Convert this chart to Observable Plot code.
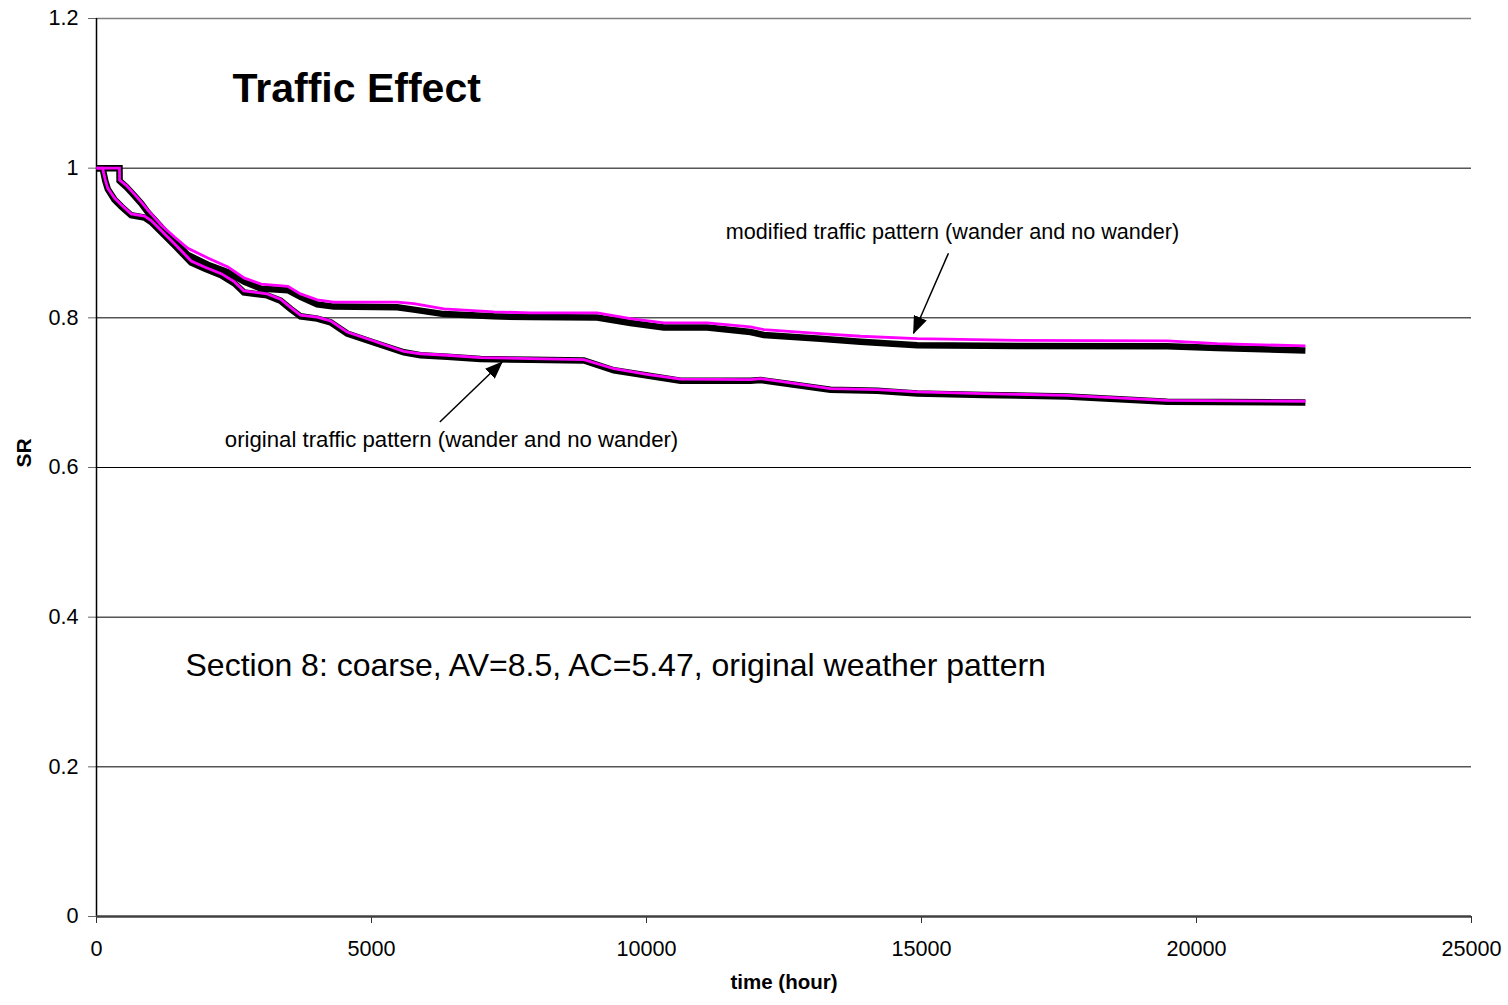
<!DOCTYPE html>
<html>
<head>
<meta charset="utf-8">
<script src="https://cdn.jsdelivr.net/npm/d3@7"></script>
<script src="https://cdn.jsdelivr.net/npm/@observablehq/plot@0.6"></script>
<style>
  body { margin: 0; background: #fff; }
  svg { display: block; }
</style>
</head>
<body>
<div id="chart"></div>
<script>
// ---- Data ----
const modifiedTime = [0, 418, 420, 540, 655, 812, 933, 1176, 1418, 1661, 2024, 2388, 2690, 2994, 3478, 3709, 4012, 4315, 5467, 5770, 6315, 7224, 7891, 9103, 9709, 10315, 11103, 11891, 12133, 13164, 13891, 14921, 16739, 19467, 20376, 21980];
const modifiedMagenta = [1, 1, 0.984, 0.977, 0.968, 0.955, 0.944, 0.924, 0.908, 0.893, 0.880, 0.868, 0.853, 0.845, 0.842, 0.832, 0.824, 0.821, 0.821, 0.819, 0.812, 0.808, 0.8066, 0.8066, 0.799, 0.7932, 0.7932, 0.7878, 0.7843, 0.779, 0.7754, 0.7723, 0.770, 0.7691, 0.7656, 0.7624];
const modifiedBlack = [1, 1, 0.983, 0.975, 0.966, 0.953, 0.941, 0.921, 0.902, 0.884, 0.871, 0.861, 0.848, 0.839, 0.837, 0.828, 0.818, 0.815, 0.814, 0.811, 0.805, 0.802, 0.801, 0.8005, 0.793, 0.787, 0.787, 0.781, 0.777, 0.772, 0.768, 0.7634, 0.7622, 0.762, 0.7598, 0.7563];

const originalTime = [0, 110, 160, 206, 327, 449, 630, 873, 994, 1418, 1721, 1964, 2267, 2509, 2680, 3103, 3345, 3527, 3709, 4012, 4255, 4558, 5042, 5588, 5891, 6376, 6982, 7891, 8861, 9406, 10012, 10618, 11891, 12073, 12497, 13345, 14194, 14921, 16133, 17648, 19467, 21980];
const originalMagenta = [1, 1, 0.984, 0.973, 0.960, 0.951, 0.939, 0.936, 0.930, 0.899, 0.876, 0.868, 0.859, 0.848, 0.836, 0.832, 0.825, 0.814, 0.8035, 0.801, 0.796, 0.781, 0.769, 0.7553, 0.752, 0.750, 0.7468, 0.7455, 0.7442, 0.732, 0.7246, 0.718, 0.7174, 0.7188, 0.7143, 0.7054, 0.704, 0.701, 0.6987, 0.6965, 0.6898, 0.6885];
const originalBlack = [1, 1, 0.983, 0.972, 0.958, 0.949, 0.937, 0.934, 0.928, 0.897, 0.874, 0.866, 0.857, 0.846, 0.834, 0.830, 0.823, 0.812, 0.802, 0.799, 0.794, 0.779, 0.767, 0.754, 0.750, 0.748, 0.745, 0.744, 0.743, 0.730, 0.723, 0.716, 0.716, 0.717, 0.7125, 0.704, 0.7025, 0.699, 0.697, 0.695, 0.688, 0.687];

const yTicks = [0, 0.2, 0.4, 0.6, 0.8, 1, 1.2];
const xTicks = [0, 5000, 10000, 15000, 20000, 25000];
const gridValues = [0.2, 0.4, 0.6, 0.8, 1];
const titleText = ["Traffic Effect"];
const modifiedLabel = ["modified traffic pattern (wander and no wander)"];
const originalLabel = ["original traffic pattern (wander and no wander)"];
const sectionLabel = ["Section 8: coarse, AV=8.5, AC=5.47, original weather pattern"];
const xLabel = ["time (hour)"];
const yLabel = ["SR"];

// ---- Build tables ----
function series(times, values) {
  return times.map((t, i) => ({ t, sr: values[i] }));
}
const modBlk = series(modifiedTime, modifiedBlack);
const modMag = series(modifiedTime, modifiedMagenta);
const origBlk = series(originalTime, originalBlack);
const origMag = series(originalTime, originalMagenta);

const FONT = "'Liberation Sans', Arial, Helvetica, sans-serif";
const lineBlack = { x: "t", y: "sr", stroke: "#000", strokeWidth: 6.5, strokeLinecap: "butt", strokeLinejoin: "miter", strokeMiterlimit: 4 };
const lineMag = { x: "t", y: "sr", stroke: "#ff00ff", strokeWidth: 2.8, strokeLinecap: "butt", strokeLinejoin: "miter", strokeMiterlimit: 4 };

const svg = Plot.plot({
  width: 1508,
  height: 1005,
  marginLeft: 96,
  marginRight: 37,
  marginTop: 18,
  marginBottom: 89,
  style: { fontFamily: FONT, background: "#fff", color: "#000", overflow: "visible" },
  x: { domain: [0, 25000] },
  y: { domain: [0, 1.2] },
  marks: [
    Plot.ruleY(gridValues, { stroke: "#000", strokeWidth: 1 }),
    Plot.ruleY([1.2], { stroke: "#808080", strokeWidth: 1.5 }),
    Plot.axisY({ ticks: yTicks, tickFormat: d => String(d), tickSize: 8, tickPadding: 10, fontSize: 21.6, label: null, stroke: "#666" }),
    Plot.axisX({ ticks: xTicks, tickFormat: d => String(d), tickSize: 7, tickPadding: 17, fontSize: 21.6, label: null, stroke: "#333" }),
    Plot.ruleX([0], { stroke: "#000", strokeWidth: 1.5 }),
    Plot.ruleY([0], { stroke: "#404040", strokeWidth: 2.5 }),
    Plot.line(origBlk, lineBlack),
    Plot.line(modBlk, lineBlack),
    Plot.line(origMag, lineMag),
    Plot.line(modMag, lineMag),
    Plot.link([0], { x1: 15490, y1: 0.8864, x2: 14855, y2: 0.7794, stroke: "#000", strokeWidth: 1.5 }),
    Plot.link([0], { x1: 6242, y1: 0.6608, x2: 7376, y2: 0.741, stroke: "#000", strokeWidth: 1.5 }),
    Plot.text(titleText, { x: 2473, y: 1.1056, text: d => d, textAnchor: "start", fontSize: 41, fontWeight: "bold", fill: "#000" }),
    Plot.text(modifiedLabel, { x: 15564, y: 0.9144, text: d => d, textAnchor: "middle", fontSize: 21.6, fill: "#000" }),
    Plot.text(originalLabel, { x: 6455, y: 0.6364, text: d => d, textAnchor: "middle", fontSize: 22.2, fill: "#000" }),
    Plot.text(sectionLabel, { x: 1618, y: 0.3356, text: d => d, textAnchor: "start", fontSize: 32, fill: "#000" }),
    Plot.text(yLabel, { frameAnchor: "left", dx: -72.5, rotate: -90, text: d => d, fontSize: 21, fontWeight: "bold", fill: "#000" }),
    Plot.text(xLabel, { frameAnchor: "bottom", dy: 72, text: d => d, fontSize: 20.5, fontWeight: "bold", fill: "#000" })
  ]
});

// filled triangular arrowheads for the annotation pointers
const root = d3.select(svg);
root.append("defs")
  .append("marker")
  .attr("id", "arrowTri")
  .attr("viewBox", "0 0 18 14")
  .attr("markerWidth", 18)
  .attr("markerHeight", 14)
  .attr("markerUnits", "userSpaceOnUse")
  .attr("refX", 17)
  .attr("refY", 7)
  .attr("orient", "auto")
  .append("path")
  .attr("d", "M0,0L18,7L0,14Z")
  .attr("fill", "#000");
root.selectAll('g[aria-label="link"] path, g[aria-label="link"] line').attr("marker-end", "url(#arrowTri)");

document.getElementById("chart").appendChild(svg);
</script>
</body>
</html>
